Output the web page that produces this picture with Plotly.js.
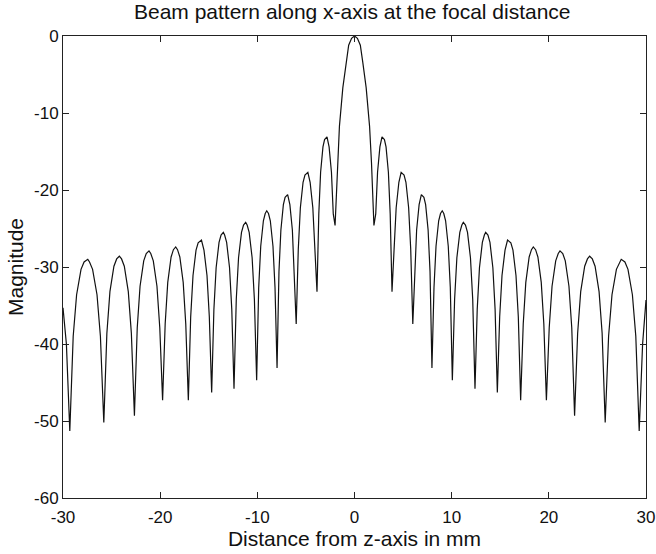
<!DOCTYPE html>
<html>
<head>
<meta charset="utf-8">
<script src="https://cdn.plot.ly/plotly-3.0.1.min.js"></script>
<style>
html,body{margin:0;padding:0;background:#fff;}
#chart{width:656px;height:554px;}
</style>
</head>
<body>
<div id="chart"></div>
<script>
// Distance from z-axis (mm), right half of the beam pattern
const distanceRight = [
  0, 0.3, 0.6, 0.85, 1.2, 1.55, 1.75,
  2.0, 2.186, 2.372, 2.614, 2.83, 3.079, 3.246, 3.488, 3.674,
  3.86, 4.074, 4.288, 4.566, 4.8, 5.101, 5.294, 5.572, 5.786,
  6.0, 6.197, 6.394, 6.65, 6.88, 7.143, 7.32, 7.576, 7.773,
  7.97, 8.18, 8.39, 8.663, 8.852, 9.03, 9.188, 9.377, 9.65, 9.86,
  10.07, 10.303, 10.536, 10.839, 11.049, 11.2, 11.421, 11.631, 11.934, 12.167,
  12.4, 12.63, 12.86, 13.159, 13.366, 13.5, 13.734, 13.941, 14.24, 14.47,
  14.7, 14.94, 15.18, 15.492, 15.75, 16.092, 16.308, 16.62, 16.86,
  17.1, 17.365, 17.63, 17.975, 18.213, 18.4, 18.637, 18.875, 19.22, 19.485,
  19.75, 20.04, 20.33, 20.707, 20.968, 21.15, 21.432, 21.693, 22.07, 22.36,
  22.65, 22.965, 23.28, 23.69, 23.973, 24.2, 24.477, 24.76, 25.17, 25.485,
  25.8, 26.15, 26.5, 26.955, 27.27, 27.45, 27.83, 28.145, 28.6, 28.95,
  29.3, 29.65, 30.0
];
// Magnitude (dB) at those distances, right half
const magnitudeRight = [
  0, -0.3, -1.2, -3.4, -6.7, -11.7, -16.5,
  -24.6, -23.1, -17.7, -14.4, -13.1, -13.45, -14.4, -17.7, -23.1,
  -33.2, -27.7, -22.3, -19.0, -17.7, -18.05, -19.0, -22.3, -27.7,
  -37.4, -30.6, -25.2, -21.9, -20.6, -20.95, -21.9, -25.2, -30.6,
  -43.1, -32.7, -27.3, -24.0, -23.05, -22.7, -23.05, -24.0, -27.3, -32.7,
  -44.7, -34.2, -28.8, -25.5, -24.55, -24.2, -24.55, -25.5, -28.8, -34.2,
  -45.8, -35.5, -30.1, -26.8, -25.85, -25.5, -25.85, -26.8, -30.1, -35.5,
  -46.3, -36.5, -31.1, -27.8, -26.5, -26.85, -27.8, -31.1, -36.5,
  -47.3, -37.4, -32.0, -28.7, -27.75, -27.4, -27.75, -28.7, -32.0, -37.4,
  -47.3, -37.9, -32.5, -29.2, -28.25, -27.9, -28.25, -29.2, -32.5, -37.9,
  -49.3, -38.6, -33.2, -29.9, -28.95, -28.6, -28.95, -29.9, -33.2, -38.6,
  -50.2, -39.0, -33.6, -30.3, -29.35, -29.0, -29.35, -30.3, -33.6, -39.0,
  -51.3, -40.0, -34.3
];
// Left half (negative distances) is read as the mirror of the right half,
// except the value at the left edge (x = -30)
const edgeLeftMagnitude = -35.3;

const xTicks = [-30, -20, -10, 0, 10, 20, 30];
const yTicks = [-60, -50, -40, -30, -20, -10, 0];

// Assemble full curve from left edge to right edge
const xs = [], ys = [];
for (let i = distanceRight.length - 1; i >= 1; i--) {
  xs.push(-distanceRight[i]);
  ys.push(i === distanceRight.length - 1 ? edgeLeftMagnitude : magnitudeRight[i]);
}
for (let i = 0; i < distanceRight.length; i++) {
  xs.push(distanceRight[i]);
  ys.push(magnitudeRight[i]);
}

const font = 'Liberation Sans, Arial, Helvetica, sans-serif';

Plotly.newPlot('chart', [{
  x: xs, y: ys, type: 'scatter', mode: 'lines',
  line: {color: '#111', width: 1.2},
  hoverinfo: 'skip'
}], {
  width: 656, height: 554,
  margin: {l: 63, r: 10, t: 36, b: 56},
  paper_bgcolor: '#fff', plot_bgcolor: '#fff',
  showlegend: false,
  title: {
    text: 'Beam pattern along x-axis at the focal distance',
    font: {family: font, size: 21, color: '#111'},
    x: 0.537, xanchor: 'center', y: 0.979, yanchor: 'middle', yref: 'container'
  },
  xaxis: {
    range: [-30, 30], tickvals: xTicks, ticktext: xTicks.map(String),
    ticks: 'inside', ticklen: 6, tickcolor: '#222', tickwidth: 1,
    showline: true, linecolor: '#222', linewidth: 1, mirror: 'ticks',
    showgrid: false, zeroline: false, ticklabelstandoff: 4,
    tickfont: {family: font, size: 17, color: '#111'},
    title: {text: 'Distance from z-axis in mm', font: {family: font, size: 21, color: '#111'}, standoff: 4}
  },
  yaxis: {
    range: [-60, 0], tickvals: yTicks, ticktext: yTicks.map(String),
    ticks: 'inside', ticklen: 6, tickcolor: '#222', tickwidth: 1,
    showline: true, linecolor: '#222', linewidth: 1, mirror: 'ticks',
    showgrid: false, zeroline: false,
    tickfont: {family: font, size: 17, color: '#111'},
    title: {text: 'Magnitude', font: {family: font, size: 21, color: '#111'}, standoff: 4}
  }
}, {staticPlot: true});
</script>
</body>
</html>
